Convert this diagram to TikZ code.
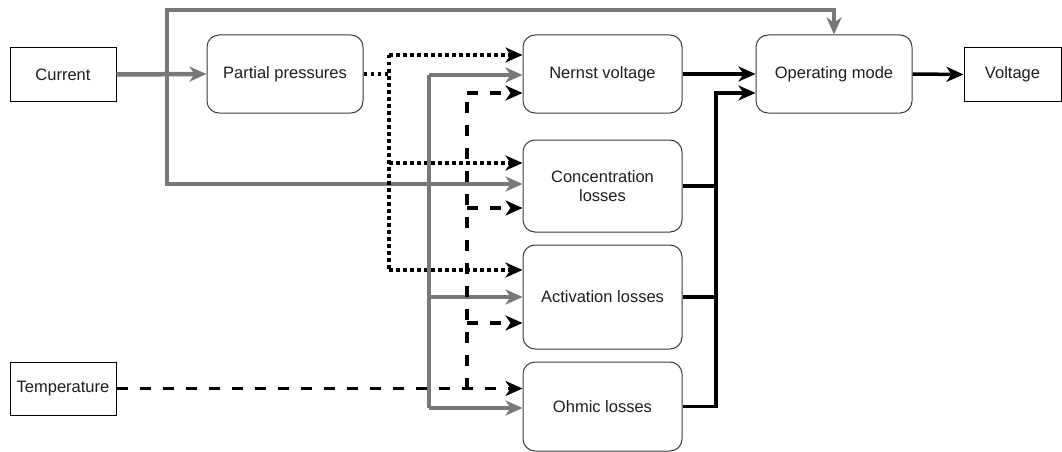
\documentclass[tikz,border=0pt]{standalone}
\usepackage{fontspec}
\setmainfont{Liberation Sans}
\usetikzlibrary{arrows.meta}
\definecolor{lg}{RGB}{120,120,120}
\definecolor{txt}{RGB}{30,30,30}
\definecolor{brd}{RGB}{60,60,60}
\tikzset{
  sqbox/.style={draw=black,line width=1pt,fill=white,inner sep=0pt,text=txt,font=\fontsize{16.5}{19}\selectfont},
  rbox/.style={draw=brd,line width=1pt,rounded corners=12pt,fill=white,inner sep=0pt,align=center,text=txt,font=\fontsize{16.5}{19}\selectfont,minimum width=159pt},
  tip/.style={-{Stealth[length=17pt,width=15pt,inset=5pt]}},
  gline/.style={draw=lg,line width=3.5pt},
  bline/.style={draw=black,line width=3.5pt},
  dotline/.style={draw=black,line width=3.5pt,dash pattern=on 3.5pt off 3.5pt},
  dashline/.style={draw=black,line width=3.5pt,dash pattern=on 11pt off 12pt},
}
\begin{document}
\begin{tikzpicture}[x=1pt,y=-1pt]
\useasboundingbox[fill=white] (0,0) rectangle (1062,452);

% nodes
\node[sqbox,minimum width=106pt,minimum height=53pt] (cur) at (63,74.5) {Current};
\node[sqbox,minimum width=106pt,minimum height=53pt] (temp) at (63,388.5) {Temperature};
\node[sqbox,minimum width=97pt,minimum height=53pt] (volt) at (1012.5,74.5) {Voltage};
\node[rbox,minimum width=156pt,minimum height=78pt] (pp) at (285,74) {Partial pressures};
\node[rbox,minimum height=78pt] (nv) at (602.5,74) {Nernst voltage};
\node[rbox,minimum height=92pt] (cl) at (602.5,186) {Concentration\\losses};
\node[rbox,minimum height=104pt] (al) at (602.5,297) {Activation losses};
\node[rbox,minimum height=89pt] (ol) at (602.5,406.5) {Ohmic losses};
\node[rbox,minimum width=156pt,minimum height=78pt] (om) at (834,74) {Operating mode};

% junction coordinates
\coordinate (cj) at (167,74.5);
\coordinate (ct) at (167,10);
\coordinate (cb) at (167,184);
\coordinate (dm) at (389,74);
\coordinate (dt) at (389,55);
\coordinate (dc) at (389,163);
\coordinate (db) at (389,270);
\coordinate (gv) at (429,75);
\coordinate (ga) at (429,297);
\coordinate (gb) at (429,408);
\coordinate (tj) at (467,388.5);
\coordinate (tt) at (467,93);
\coordinate (tc) at (467,208);
\coordinate (ta) at (467,323);
\coordinate (bt) at (716,93);

% gray: current
\draw[gline,tip,line width=4.5pt] (cur.east) -- (pp.west);
\draw[gline,tip] (cj) -- (ct) -| (om.north);
\draw[gline,tip] (cj) -- (cb) -- (cb -| cl.west);

% dotted: partial pressures
\draw[dotline] (pp.east) -- (dm);
\draw[dotline] (dt) -- (db);
\draw[dotline,tip] (dt) -- (dt -| nv.west);
\draw[dotline,tip] (dc) -- (dc -| cl.west);
\draw[dotline,tip] (db) -- (db -| al.west);

% gray vertical
\draw[gline] (gv) -- (gb);
\draw[gline,tip] (gv) -- (gv -| nv.west);
\draw[gline,tip] (ga) -- (ga -| al.west);
\draw[gline,tip] (gb) -- (gb -| ol.west);

% dashed: temperature
\draw[dashline,tip] (temp.east) -- (tj) -- (tj -| ol.west);
\draw[dashline] (tj) -- (tt);
\draw[dashline,tip] (tt) -- (tt -| nv.west);
\draw[dashline,tip] (tc) -- (tc -| cl.west);
\draw[dashline,tip] (ta) -- (ta -| al.west);

% black outputs
\draw[bline,tip] (nv.east) -- (nv.east -| om.west);
\draw[bline] (cl.east) -- (cl.east -| bt);
\draw[bline] (al.east) -- (al.east -| bt);
\draw[bline,tip] (ol.east) -| (bt) -- (bt -| om.west);
\draw[bline,tip] (om.east) -- (volt.west);
\end{tikzpicture}
\end{document}
